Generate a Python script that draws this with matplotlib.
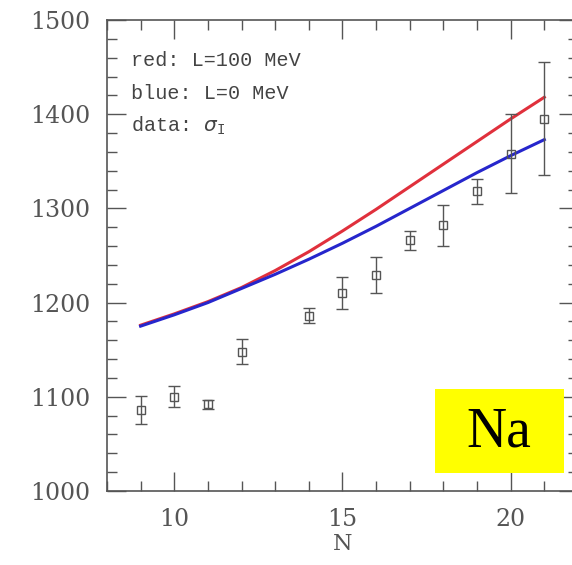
import matplotlib
matplotlib.use("Agg")
import matplotlib.pyplot as plt
from matplotlib.patches import Rectangle
from matplotlib.ticker import MultipleLocator

# measured points (sigma_I)
n_data = [9, 10, 11, 12, 14, 15, 16, 17, 18, 19, 20, 21]
sigma = [1086, 1100, 1092, 1148, 1186, 1210, 1229, 1266, 1282, 1318, 1358, 1395]
sigma_err = [15, 11, 5, 13, 8, 17, 19, 10, 22, 13, 42, 60]

# model curves
n_model = [9, 10, 11, 12, 13, 14, 15, 16, 17, 18, 19, 20, 21]
red_l100 = [1176, 1188, 1201, 1216, 1234, 1254, 1276, 1299, 1323, 1347, 1371, 1395, 1418]
blue_l0 = [1175, 1187, 1200, 1215, 1230, 1246, 1263, 1281, 1300, 1319, 1338, 1356, 1373]

gray = "#555555"
plt.rcParams["font.family"] = ["DejaVu Serif"]

fig = plt.figure(figsize=(5.72, 5.65), dpi=100)
ax = fig.add_axes([0.187, 0.131, 0.8234, 0.8336])

ax.plot(n_model, red_l100, color="#e0303c", lw=2.2, solid_joinstyle="round")
ax.plot(n_model, blue_l0, color="#2626cc", lw=2.2, solid_joinstyle="round")
ax.errorbar(n_data, sigma, yerr=sigma_err, fmt="s", ms=6, mfc="none",
            mec=gray, mew=1.0, ecolor=gray, elinewidth=1.0, capsize=4.5,
            capthick=1.0)

ax.set_xlim(8, 22)
ax.set_ylim(1000, 1500)
ax.xaxis.set_major_locator(MultipleLocator(5))
ax.xaxis.set_minor_locator(MultipleLocator(1))
ax.yaxis.set_major_locator(MultipleLocator(100))
ax.yaxis.set_minor_locator(MultipleLocator(20))
ax.tick_params(which="both", direction="in", top=True, right=True,
               color=gray, width=1.0)
ax.tick_params(which="major", length=14, labelsize=17, labelcolor=gray, pad=12)
ax.tick_params(which="minor", length=7)
for sp in ax.spines.values():
    sp.set_color(gray)
    sp.set_linewidth(1.2)

ax.set_xlabel("N", fontsize=16, color=gray, labelpad=2)

labels = ["red: L=100 MeV", "blue: L=0 MeV", r"data: $\sigma_\mathregular{I}$"]
for i, txt in enumerate(labels):
    ax.text(0.05, 0.915 - i * 0.07, txt, transform=ax.transAxes,
            family="Liberation Mono", fontsize=14.5, color="#444444",
            va="center", ha="left")

ax.add_patch(Rectangle((0.696, 0.038), 0.274, 0.179, transform=ax.transAxes,
                       facecolor="#ffff00", edgecolor="none", zorder=5))
ax.text(0.833, 0.125, "Na", transform=ax.transAxes, family="Liberation Serif",
        fontsize=40, color="black", ha="center", va="center", zorder=6)

fig.savefig("out.png", dpi=100)
